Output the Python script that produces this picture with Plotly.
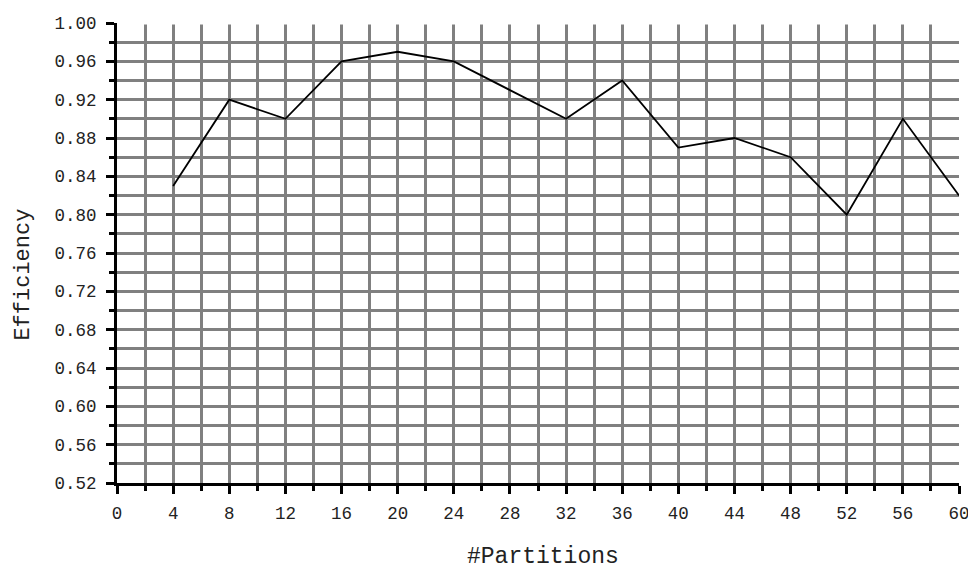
import plotly.graph_objects as go

partitions = [4, 8, 12, 16, 20, 24, 28, 32, 36, 40, 44, 48, 52, 56, 60]
efficiency = [0.83, 0.92, 0.90, 0.96, 0.97, 0.96, 0.93, 0.90, 0.94, 0.87, 0.88, 0.86, 0.80, 0.90, 0.82]

x_ticks = list(range(0, 61, 4))
x_ticklabels = [str(v) for v in x_ticks]
y_ticks = [0.52, 0.56, 0.60, 0.64, 0.68, 0.72, 0.76, 0.80, 0.84, 0.88, 0.92, 0.96, 1.00]
y_ticklabels = ["%.2f" % v for v in y_ticks]

FONT = "Liberation Mono, Courier New, monospace"
GRID = "#808080"

fig = go.Figure()
fig.add_trace(go.Scatter(x=partitions, y=efficiency, mode="lines",
                         line=dict(color="black", width=1.8), showlegend=False))

fig.update_layout(
    width=968, height=563,
    margin=dict(l=109, r=6, t=6, b=88),
    paper_bgcolor="white", plot_bgcolor="white",
    font=dict(family=FONT, size=17.5, color="#222"),
    annotations=[
        dict(text="#Partitions", xref="paper", yref="paper", x=0.5065, y=-0.160,
             xanchor="center", yanchor="middle", showarrow=False,
             font=dict(family=FONT, size=23, color="#222")),
        dict(text="Efficiency", xref="paper", yref="paper", x=-0.111, y=0.452,
             xanchor="center", yanchor="middle", textangle=-90, showarrow=False,
             borderpad=0, font=dict(family=FONT, size=22, color="#222")),
    ],
    shapes=[
        dict(type="line", xref="x", yref="y", x0=0.15, x1=60, y0=1.0, y1=1.0,
             line=dict(color="white", width=3), layer="above"),
    ],
)

fig.update_xaxes(
    range=[0, 60], tickvals=x_ticks, ticktext=x_ticklabels,
    showline=True, linecolor="black", linewidth=3,
    ticks="outside", ticklen=8, tickwidth=2.5, tickcolor="black",
    showgrid=True, gridcolor=GRID, gridwidth=2.5, zeroline=False,
    minor=dict(dtick=2, tick0=0, ticks="outside", ticklen=5, tickwidth=2.5,
               tickcolor="black", showgrid=True, gridcolor=GRID, gridwidth=2.5),
    ticklabelstandoff=4, ticklabeloverflow="allow",
)
fig.update_yaxes(
    range=[0.52, 1.0], tickvals=y_ticks, ticktext=y_ticklabels,
    showline=True, linecolor="black", linewidth=3,
    ticks="outside", ticklen=8, tickwidth=2.5, tickcolor="black",
    showgrid=True, gridcolor=GRID, gridwidth=2.5, zeroline=False,
    minor=dict(dtick=0.02, tick0=0.52, ticks="outside", ticklen=5, tickwidth=2.5,
               tickcolor="black", showgrid=True, gridcolor=GRID, gridwidth=2.5),
    ticklabelstandoff=6, ticklabeloverflow="allow",
)

fig.write_html("out.html")
